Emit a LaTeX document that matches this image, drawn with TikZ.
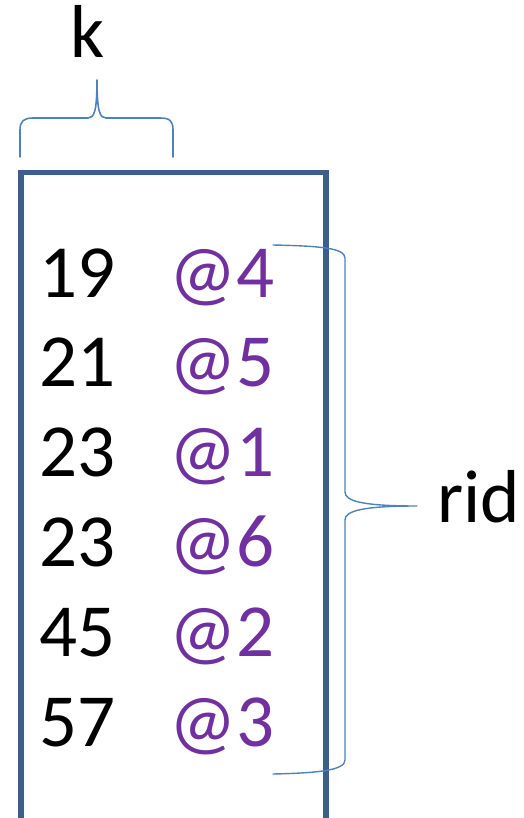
\documentclass[tikz,border=0pt]{standalone}
\usepackage{fontspec}
\setmainfont{Carlito}
\definecolor{boxblue}{HTML}{3B5E8F}
\definecolor{braceblue}{HTML}{4F81BD}
\definecolor{ridpurple}{HTML}{7030A0}
\begin{document}
\begin{tikzpicture}[x=1pt,y=-1pt,
  txt/.style={anchor=base west,inner sep=0pt,font=\fontsize{75}{90}\selectfont},
  keytxt/.style={txt,text=black},
  ridtxt/.style={txt,text=ridpurple},
  bracepath/.style={draw=braceblue,line width=1.6pt,line cap=round,line join=round},
  boxframe/.style={draw=boxblue,line width=5.5pt}]
\useasboundingbox (0,0) rectangle (523,818);
\path[boxframe] (21,822) -- (21,172.5) -- (326,172.5) -- (326,822);
% rows
\foreach \k/\r [count=\i from 0] in {19/4,21/5,23/1,23/6,45/2,57/3}{
  \node[keytxt] (k\i) at (39,297+89.8*\i) {\k};
  \node[ridtxt] (r\i) at (169,297+89.8*\i) {@\r};
}
\node[keytxt] (klabel) at (70,58) {k};
\node[keytxt] (ridlabel) at (437,522) {rid};
% top brace
\coordinate (tbL) at (20,157);
\coordinate (tbTip) at (97,80);
\coordinate (tbR) at (173,157);
\path[bracepath] (tbL) -- (20,130) .. controls (20,121) and (24,118) .. (33,118) -- (88,118)
  .. controls (94,118) and (97,112) .. (tbTip)
  .. controls (97,112) and (100,118) .. (106,118) -- (160,118)
  .. controls (170,118) and (173,121) .. (173,130) -- (tbR);
% right brace
\coordinate (rbT) at (273,245);
\coordinate (rbTip) at (417,506);
\coordinate (rbB) at (273,774);
\path[bracepath,line width=1.4pt] (rbT) .. controls (320,246) and (345,248) .. (345,258) -- (345,492)
  .. controls (345,501) and (362,506) .. (rbTip)
  .. controls (362,506) and (345,511) .. (345,520) -- (345,760)
  .. controls (345,770) and (320,773) .. (rbB);
\end{tikzpicture}
\end{document}
